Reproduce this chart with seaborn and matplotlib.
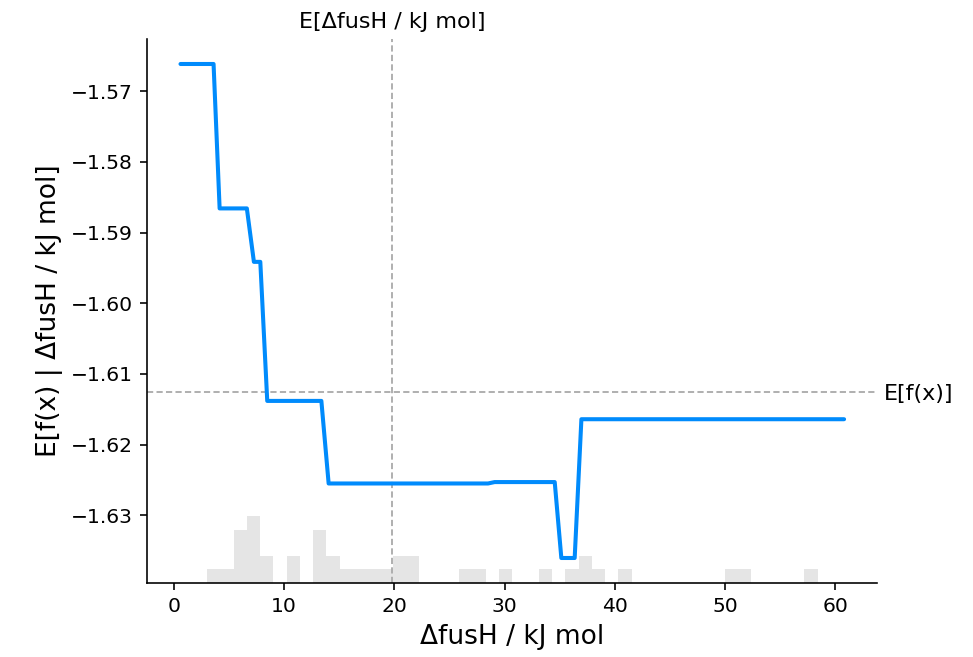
import numpy as np
import pandas as pd
import matplotlib
matplotlib.use("Agg")
import matplotlib.pyplot as plt
import seaborn as sns

# ---- data ----
feature_name = "ΔfusH / kJ mol"
x_min, x_max = 0.6, 60.8
n_samples = 41
feature_mean = 19.77
expected_fx = -1.6126

line_x = [0.6, 3.60, 4.15, 6.62, 7.26, 7.84, 8.47, 13.38, 14.04, 28.5, 29.1,
          34.55, 35.15, 36.36, 36.97, 60.8]
line_y = [-1.56616, -1.56616, -1.58659, -1.58659, -1.59415, -1.59415, -1.61382,
          -1.61382, -1.62550, -1.62550, -1.62530, -1.62530, -1.63604, -1.63604,
          -1.61641, -1.61641]

hist_centers = [3.61, 4.81, 6.02, 7.22, 8.43, 10.83, 13.24, 14.45, 15.65, 16.86,
                18.06, 19.27, 20.47, 21.67, 26.49, 27.69, 30.10, 33.71, 36.12,
                37.32, 38.53, 40.93, 50.57, 51.77, 57.79]
hist_counts = [1, 1, 4, 5, 2, 2, 4, 2, 1, 1,
               1, 1, 2, 2, 1, 1, 1, 1, 1,
               2, 1, 1, 1, 1, 1]

line_color = (0.0, 0.545, 0.988)

sns.set_theme(style="ticks")
plt.rcParams["font.family"] = ["DejaVu Sans"]

dpi = 146
fig = plt.figure(figsize=(973 / dpi, 657 / dpi), dpi=dpi)
ax1 = fig.add_axes([0.1514, 0.1131, 0.7502, 0.8271])

# histogram on a twin axis
ax2 = ax1.twinx()
hist_df = pd.DataFrame({"x": hist_centers, "w": hist_counts})
sns.histplot(data=hist_df, x="x", weights="w", bins=50, binrange=(x_min, x_max),
             color="black", alpha=0.1, linewidth=0, ax=ax2)
ax2.set_ylim(0, n_samples)
ax2.set_yticks([])
ax2.set_ylabel("")
ax2.set_xlabel("")
for s in ax2.spines.values():
    s.set_visible(False)

ax1.set_zorder(ax2.get_zorder() + 1)
ax1.patch.set_visible(False)

line_df = pd.DataFrame({"x": line_x, "y": line_y})
sns.lineplot(data=line_df, x="x", y="y", sort=False, estimator=None,
             color=line_color, linewidth=2, ax=ax1)
ax1.autoscale(enable=True, axis="both", tight=False)
ax1.margins(0.05)

ax1.axvline(feature_mean, color="#aaaaaa", linestyle=(0, (3.4, 1.8)), linewidth=0.9, zorder=-1)
ax1.axhline(expected_fx, color="#aaaaaa", linestyle=(0, (3.4, 1.8)), linewidth=0.9, zorder=-1)

ax1.set_xlabel(feature_name, fontsize=13, color="black")
ax1.set_ylabel("E[f(x) | " + feature_name + "]", fontsize=13, color="black")
ax1.tick_params(labelsize=10, colors="black", length=3.5, width=0.8)
ax1.spines["top"].set_visible(False)
ax1.spines["right"].set_visible(False)
ax1.spines["left"].set_color("black")
ax1.spines["bottom"].set_color("black")
ax1.spines["left"].set_linewidth(0.8)
ax1.spines["bottom"].set_linewidth(0.8)

fig.canvas.draw()
xl = ax1.get_xlim()
yl = ax1.get_ylim()
ax2.set_xlim(xl)

# top label for feature expectation
ax3 = ax1.twiny()
ax3.set_xlim(xl)
ax3.set_xticks([feature_mean])
ax3.set_xticklabels(["E[" + feature_name + "]"])
ax3.tick_params(length=0, labelsize=11, colors="black")
for s in ax3.spines.values():
    s.set_visible(False)

# right label for model expectation
ax4 = ax1.twinx()
ax4.set_ylim(yl)
ax4.set_yticks([expected_fx])
ax4.set_yticklabels(["E[f(x)]"])
ax4.tick_params(length=0, labelsize=11, colors="black")
for s in ax4.spines.values():
    s.set_visible(False)

fig.savefig("out.png", dpi=dpi)
